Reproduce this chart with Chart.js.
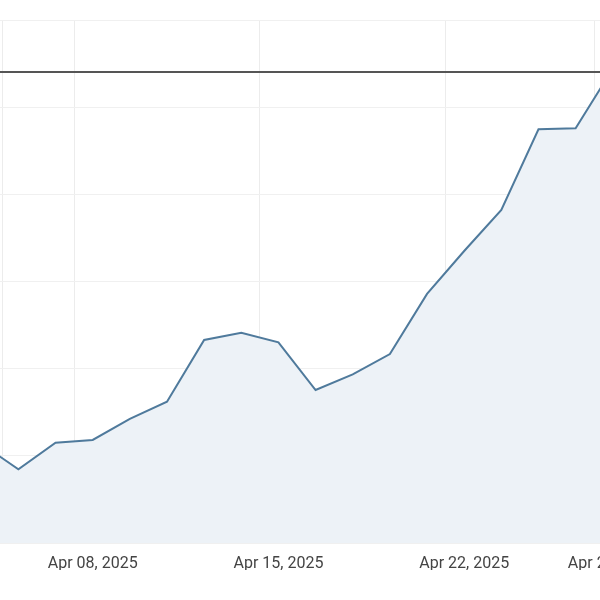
<!DOCTYPE html>
<html>
<head>
<meta charset="utf-8">
<script src="https://cdn.jsdelivr.net/npm/chart.js@4.4.1/dist/chart.umd.min.js"></script>
<style>
  html, body { margin: 0; padding: 0; background: #fff; }
  #wrap { width: 600px; height: 600px; position: relative; }
</style>
</head>
<body>
<div id="wrap"><canvas id="priceChart"></canvas></div>
<script>
// trading days (weekdays only), one close per day
const dates = [
  'Apr 03, 2025', 'Apr 04, 2025', 'Apr 07, 2025', 'Apr 08, 2025', 'Apr 09, 2025',
  'Apr 10, 2025', 'Apr 11, 2025', 'Apr 14, 2025', 'Apr 15, 2025', 'Apr 16, 2025',
  'Apr 17, 2025', 'Apr 18, 2025', 'Apr 21, 2025', 'Apr 22, 2025', 'Apr 23, 2025',
  'Apr 24, 2025', 'Apr 25, 2025', 'Apr 28, 2025'
];
const closes = [
  81.39, 78.45, 81.51, 81.82, 84.23,
  86.21, 93.29, 94.13, 93.02, 87.55,
  89.35, 91.68, 98.57, 103.50, 108.20,
  117.46, 117.57, 124.42
];
const refLevel = 124.03;

// x axis labels and where the vertical grid lines fall (in day-index units)
const tickDates = ['Apr 08, 2025', 'Apr 15, 2025', 'Apr 22, 2025', 'Apr 28, 2025'];
const gridTicks = [0.58, 2.5, 7.5, 12.5, 16.5];
const yTicks = [70, 80, 90, 100, 110, 120, 130];

// visible window of the chart (the view is zoomed in)
const xMin = 0.505;
const xMax = 16.656;

const lineColor = '#4f7a9c';
const fillColor = '#edf2f7';
const gridColor = '#ececec';

const tickIdx = tickDates.map(d => dates.indexOf(d));

const ctx = document.getElementById('priceChart').getContext('2d');
new Chart(ctx, {
  type: 'line',
  data: {
    datasets: [
      {
        label: 'Reference',
        data: [{ x: 0, y: refLevel }, { x: dates.length - 1, y: refLevel }],
        borderColor: '#555555',
        borderWidth: 2,
        pointRadius: 0,
        fill: false
      },
      {
        label: 'Close',
        data: closes.map((v, i) => ({ x: i, y: v })),
        borderColor: lineColor,
        backgroundColor: fillColor,
        borderWidth: 2,
        pointRadius: 0,
        tension: 0,
        fill: 'start'
      }
    ]
  },
  options: {
    responsive: true,
    maintainAspectRatio: false,
    animation: false,
    layout: {
      autoPadding: false,
      padding: { top: 20, bottom: 30, left: 0, right: 0 }
    },
    scales: {
      x: {
        type: 'linear',
        min: xMin,
        max: xMax,
        border: { display: false },
        grid: { color: gridColor, lineWidth: 1, drawTicks: false },
        ticks: { display: false },
        afterBuildTicks: scale => {
          scale.ticks = gridTicks.map(v => ({ value: v }));
        },
        afterFit: scale => {
          scale.height = 0;
          scale.paddingLeft = 0;
          scale.paddingRight = 0;
        }
      },
      xLabels: {
        type: 'linear',
        position: 'bottom',
        min: xMin,
        max: xMax,
        border: { display: false },
        grid: { display: false, drawTicks: false },
        ticks: {
          padding: 11,
          color: '#444',
          font: { family: 'Roboto', size: 16 },
          maxRotation: 0,
          autoSkip: false,
          callback: value => dates[value] || ''
        },
        afterBuildTicks: scale => {
          scale.ticks = tickIdx.map(v => ({ value: v }));
        },
        afterFit: scale => {
          scale.height = 27;
          scale.paddingLeft = 0;
          scale.paddingRight = 0;
        }
      },
      y: {
        min: yTicks[0],
        max: yTicks[yTicks.length - 1],
        border: { display: false },
        grid: { color: '#f0f0f0', lineWidth: 1, drawTicks: false },
        ticks: { display: false, stepSize: 10 },
        afterBuildTicks: scale => {
          scale.ticks = yTicks.map(v => ({ value: v }));
        },
        afterFit: scale => {
          scale.width = 0;
        }
      }
    },
    plugins: {
      legend: { display: false },
      title: { display: false },
      tooltip: { enabled: false }
    }
  }
});
</script>
</body>
</html>
